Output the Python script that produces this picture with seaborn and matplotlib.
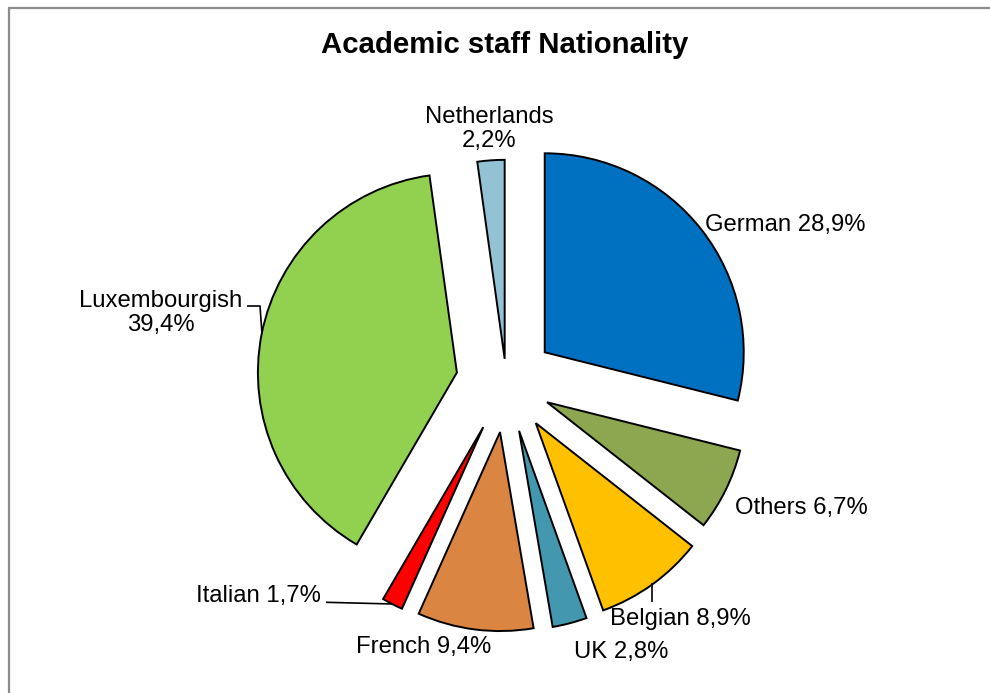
import matplotlib
matplotlib.use("Agg")
import matplotlib.pyplot as plt
import seaborn as sns
import numpy as np

# Academic staff by nationality (share of total, %)
nationalities = ["German", "Others", "Belgian", "UK", "French", "Italian",
                 "Luxembourgish", "Netherlands"]
shares = [28.9, 6.7, 8.9, 2.8, 9.4, 1.7, 39.4, 2.2]
slice_colors = ["#0070C0", "#8CA74F", "#FFC000", "#4398B0", "#DA8541",
                "#FF0000", "#92D050", "#93C2D5"]
explode = [0.245, 0.228, 0.253, 0.252, 0.252, 0.253, 0.253, 0.118]

sns.set_theme(style="white")
plt.rcParams["font.family"] = ["Liberation Sans", "DejaVu Sans"]

fig = plt.figure(figsize=(9.9, 6.93), dpi=100)
fig.patch.set_facecolor("white")

# axes covering the whole canvas; one data unit equals the pie radius
W, H = 990, 693
R_PX = 199.0
CX, CY = 506.3, 382.3
ax = fig.add_axes([0, 0, 1, 1])
ax.axis("off")

def px(x, y):
    """pixel position (from top-left) -> data coordinates"""
    return (x - CX) / R_PX, (CY - y) / R_PX

wedges, _ = ax.pie(shares, colors=slice_colors, explode=explode,
                   startangle=90, counterclock=False, radius=1.0,
                   center=(0, 0), frame=False,
                   wedgeprops=dict(edgecolor="black", linewidth=1.4,
                                   joinstyle="miter"))
ax.set_xlim(-CX / R_PX, (W - CX) / R_PX)
ax.set_ylim(-(H - CY) / R_PX, CY / R_PX)
ax.set_aspect("auto")

def pct(v):
    return str(v).replace(".", ",") + "%"

labels = [f"{n} {pct(v)}" for n, v in zip(nationalities, shares)]
labels[6] = f"{nationalities[6]}\n{pct(shares[6])}"
labels[7] = f"{nationalities[7]}\n{pct(shares[7])}"

fs = 17.2
label_pos = {
    0: (705, 225, "left", "center"),
    1: (735, 508, "left", "center"),
    2: (610, 619, "left", "center"),
    3: (574, 652, "left", "center"),
    4: (424, 647, "center", "center"),
    5: (321, 596, "right", "center"),
    6: (161, 313, "center", "center"),
    7: (489, 129, "center", "center"),
}
for i, (x, y, ha, va) in label_pos.items():
    tx, ty = px(x, y)
    ax.text(tx, ty, labels[i], ha=ha, va=va, fontsize=fs, color="black",
            linespacing=1.15, multialignment="center")

# leader lines
def leader(points):
    pts = np.array([px(x, y) for x, y in points])
    ax.plot(pts[:, 0], pts[:, 1], color="black", lw=1.2, solid_capstyle="butt")

leader([(247, 306), (260, 306), (262, 334)])
leader([(326, 602.3), (393, 604)])
leader([(652, 583), (652, 602)])

# title
tx, ty = px(505, 45)
ax.text(tx, ty, "Academic staff Nationality", ha="center", va="center",
        fontsize=21.2, fontweight="bold", color="black")

# chart area frame (top and left edges)
fig.add_artist(plt.Line2D([8.5 / W, 1], [1 - 7.5 / H, 1 - 7.5 / H],
                          color="#8C8C8C", lw=1.6, transform=fig.transFigure))
fig.add_artist(plt.Line2D([8.5 / W, 8.5 / W], [0, 1 - 7.5 / H],
                          color="#8C8C8C", lw=1.6, transform=fig.transFigure))

fig.savefig("out.png", dpi=100, facecolor="white")
